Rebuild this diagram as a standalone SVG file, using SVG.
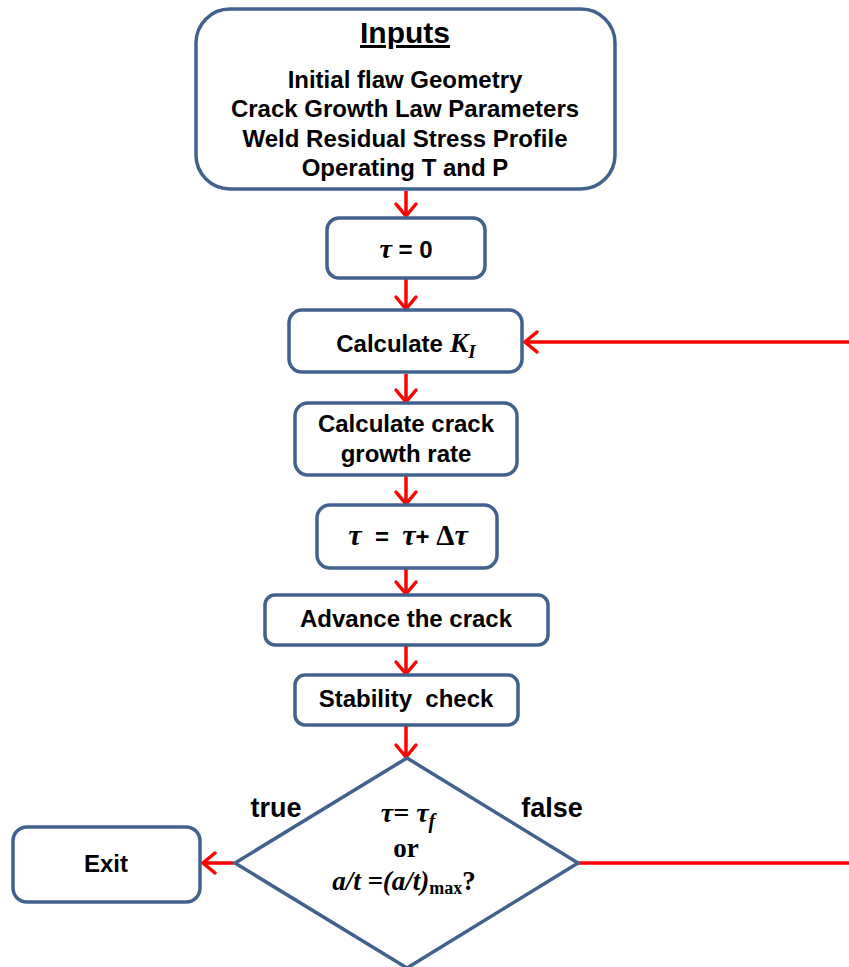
<svg xmlns="http://www.w3.org/2000/svg" width="849" height="967" viewBox="0 0 849 967">
<style>
.box{fill:#fff;stroke:#41628E;stroke-width:3.5}
.t{font-family:"Liberation Sans",Arial,sans-serif;font-weight:bold;font-size:24px;fill:#000;text-anchor:middle}
.m{font-family:"Liberation Serif","Times New Roman",serif;font-weight:bold;font-style:italic}
.r{font-family:"Liberation Serif","Times New Roman",serif;font-weight:bold;font-style:normal}
.c{stroke:#FF0000;stroke-width:3.5;fill:none}
</style>
<defs>
<marker id="ah" markerUnits="userSpaceOnUse" viewBox="0 0 16 24" refX="14" refY="12" markerWidth="16" markerHeight="24" orient="auto" overflow="visible">
<path d="M2,2 L14,12 L2,22" fill="none" stroke="#FF0000" stroke-width="3.5" stroke-linecap="round" stroke-linejoin="miter"/>
</marker>
</defs>
<rect width="849" height="967" fill="#fff"/>
<g id="connectors">
<line class="c" x1="406" y1="191" x2="406" y2="216" marker-end="url(#ah)"/>
<line class="c" x1="406" y1="279" x2="406" y2="309" marker-end="url(#ah)"/>
<line class="c" x1="406" y1="374" x2="406" y2="402" marker-end="url(#ah)"/>
<line class="c" x1="406" y1="476" x2="406" y2="504" marker-end="url(#ah)"/>
<line class="c" x1="406" y1="569" x2="406" y2="594" marker-end="url(#ah)"/>
<line class="c" x1="406" y1="646" x2="406" y2="674" marker-end="url(#ah)"/>
<line class="c" x1="406" y1="726" x2="406" y2="757" marker-end="url(#ah)"/>
<line class="c" x1="849" y1="342" x2="525" y2="342" marker-end="url(#ah)"/>
<line class="c" x1="578" y1="863" x2="849" y2="863"/>
<line class="c" x1="234" y1="863" x2="203" y2="863" marker-end="url(#ah)"/>
</g>
<g id="inputs">
<rect class="box" x="196" y="9" width="419" height="180" rx="34"/>
<text class="t" x="405" y="43" style="font-size:30px;text-decoration:underline">Inputs</text>
<text class="t" x="405" y="88">Initial flaw Geometry</text>
<text class="t" x="405" y="117">Crack Growth Law Parameters</text>
<text class="t" x="405" y="147">Weld Residual Stress Profile</text>
<text class="t" x="405" y="176">Operating T and P</text>
</g>
<g id="tau0">
<rect class="box" x="327" y="218" width="158" height="60" rx="12"/>
<text class="t" x="406" y="258"><tspan class="m" style="font-size:28px">τ</tspan> = 0</text>
</g>
<g id="calcK">
<rect class="box" x="289" y="310" width="233" height="62" rx="13"/>
<text class="t" x="406" y="352">Calculate <tspan class="m" style="font-size:28px">K</tspan><tspan class="m" style="font-size:19px" dy="6">I</tspan></text>
</g>
<g id="calcRate">
<rect class="box" x="295" y="403" width="222" height="72" rx="13"/>
<text class="t" x="406" y="432">Calculate crack</text>
<text class="t" x="406" y="462">growth rate</text>
</g>
<g id="tauInc">
<rect class="box" x="317" y="505" width="180" height="63" rx="13"/>
<text class="t" x="408" y="545" xml:space="preserve"><tspan class="m" style="font-size:30px">τ</tspan>  =  <tspan class="m" style="font-size:30px">τ</tspan>+ <tspan class="r" style="font-size:29px">Δ</tspan><tspan class="m" style="font-size:30px">τ</tspan></text>
</g>
<g id="advance">
<rect class="box" x="265" y="595" width="283" height="50" rx="10"/>
<text class="t" x="406" y="627">Advance the crack</text>
</g>
<g id="stability">
<rect class="box" x="295" y="675" width="223" height="50" rx="10"/>
<text class="t" x="406" y="707" xml:space="preserve">Stability  check</text>
</g>
<g id="decision">
<polygon class="box" points="407,758 578,863 407,968 235,863"/>
<text class="t m" x="408" y="822" style="font-size:28px">τ= τ<tspan style="font-size:20px" dy="6">f</tspan></text>
<text class="t r" x="406" y="857" style="font-size:27px">or</text>
<text class="t m" x="404" y="890" style="font-size:27px">a/t =(a/t)<tspan class="r" style="font-size:18px" dy="4">max</tspan><tspan class="r" dy="-4">?</tspan></text>
<text class="t" x="276" y="817" style="font-size:27px">true</text>
<text class="t" x="552" y="817" style="font-size:27px">false</text>
</g>
<g id="exit">
<rect class="box" x="13" y="827" width="187" height="75" rx="14"/>
<text class="t" x="106" y="872">Exit</text>
</g>
</svg>
